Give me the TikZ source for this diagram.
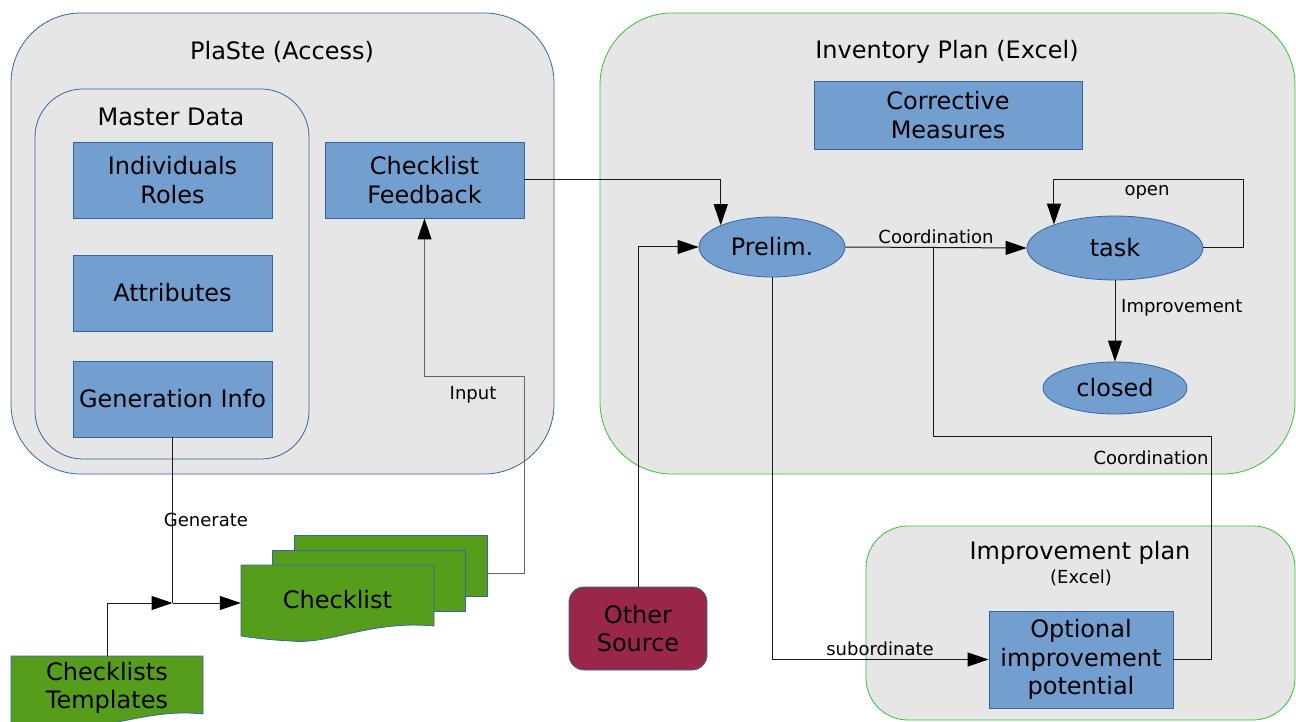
\documentclass[tikz,border=0pt]{standalone}
\usepackage{fontspec}
\setmainfont{DejaVu Sans}
\usetikzlibrary{shapes.geometric,arrows.meta}
\definecolor{cgray}{HTML}{E6E6E6}
\definecolor{cblue}{HTML}{729FCF}
\definecolor{cborder}{HTML}{3465A4}
\definecolor{cgreenb}{HTML}{33C433}
\definecolor{cgreen}{HTML}{579D1C}
\definecolor{cmaroon}{HTML}{9B2748}
\begin{document}
\begin{tikzpicture}[x=1pt,y=-1pt,
  bigfont/.style={font=\fontsize{24pt}{28.5pt}\selectfont},
  smallfont/.style={font=\fontsize{18pt}{22pt}\selectfont},
  container/.style={draw=cborder, fill=cgray, line width=0.8pt, inner sep=0pt},
  greencont/.style={container, draw=cgreenb},
  bluebox/.style={draw=cborder, fill=cblue, line width=0.8pt, inner sep=0pt, align=center, bigfont},
  ellnode/.style={ellipse, draw=cborder, fill=cblue, line width=0.8pt, inner sep=0pt, bigfont},
  docshape/.style={draw=cborder, fill=cgreen, line width=0.8pt},
  conn/.style={draw=black!90, line width=1pt},
  arr/.style={conn, -{Triangle[length=21pt,width=14pt,black]}},
  lbl/.style={smallfont, inner sep=0pt},
  title/.style={bigfont, inner sep=0pt}
]
\useasboundingbox (0,0) rectangle (1296,722);

% containers
\node[container, rounded corners=70pt, minimum width=543pt, minimum height=461pt] (plaste) at (282.5,243.5) {};
\node[container, rounded corners=48pt, minimum width=274pt, minimum height=370pt] (master) at (172,274) {};
\node[greencont, rounded corners=72pt, minimum width=695pt, minimum height=461pt] (inventory) at (947.5,243.5) {};
\node[greencont, rounded corners=42pt, minimum width=429pt, minimum height=194pt] (improv) at (1080.5,623) {};

% titles
\node[title] (t1) at (282,52) {PlaSte (Access)};
\node[title] (t2) at (171,117) {Master Data};
\node[title] (t3) at (947,52) {Inventory Plan (Excel)};
\node[title] (t4) at (1080,553) {Improvement plan};
\node[lbl] (t5) at (1081,578) {(Excel)};

% blue boxes
\node[bluebox, minimum width=199pt, minimum height=76pt] (indiv) at (172.5,180) {Individuals\\Roles};
\node[bluebox, minimum width=199pt, minimum height=76pt] (attr) at (172.5,293) {Attributes};
\node[bluebox, minimum width=199pt, minimum height=76pt] (gen) at (172.5,399) {Generation Info};
\node[bluebox, minimum width=199pt, minimum height=76pt] (cf) at (424.5,180) {Checklist\\Feedback};
\node[bluebox, minimum width=268pt, minimum height=68pt] (corr) at (948,115) {Corrective\\Measures};
\node[bluebox, minimum width=184pt, minimum height=97pt] (opt) at (1081,659.5) {Optional\\improvement\\potential};

% ellipses
\node[ellnode, minimum width=146pt, minimum height=60pt] (prelim) at (772,247) {Prelim.};
\node[ellnode, minimum width=176pt, minimum height=64pt] (task) at (1115,248) {task};
\node[ellnode, minimum width=144pt, minimum height=52pt] (closed) at (1115,388) {closed};

% other source
\node[draw=cborder, fill=cmaroon, line width=0.8pt, rounded corners=15pt, minimum width=138pt, minimum height=83pt, inner sep=0pt, align=center, bigfont] (other) at (638,628.5) {Other\\Source};

% checklist stack
\node[docshape, minimum width=193pt, minimum height=61pt, inner sep=0pt] (chk3) at (391,565.5) {};
\node[docshape, minimum width=193pt, minimum height=61pt, inner sep=0pt] (chk2) at (368.5,580.5) {};
\path[docshape] (241,565) -- (434,565) -- (434,626) .. controls (370,620) and (330,645) .. (291,641) .. controls (270,640) and (255,638) .. (241,636) -- cycle;
\node[bigfont, minimum width=193pt, minimum height=76pt, inner sep=0pt] (chk) at (337.5,603) {\raisebox{7pt}{Checklist}};

% templates
\path[docshape] (11,656) -- (203,656) -- (203,714) .. controls (150,708) and (110,730) .. (60,728) .. controls (40,728) and (25,726) .. (11,724) -- cycle;
\node[bigfont, align=center, minimum width=192pt, minimum height=64pt, inner sep=0pt] (tmpl) at (107,688) {Checklists\\Templates};

% coordinates
\coordinate (j1) at (gen.south |- chk.west);
\coordinate (in1) at (524,376);
\coordinate (j2) at (933,247);
\coordinate (c2) at (1211,436);
\coordinate (loop1) at (1243,180);

% connectors
\draw[conn] (gen.south) -- (j1);
\draw[arr] (j1) -- (chk.west);
\draw[arr] (tmpl.north) |- (j1);
\draw[arr, draw=black!60] ([yshift=-7.5pt]chk3.east) -| (in1) -| (cf.south);
\draw[arr] (cf.east) -| (prelim.157);
\draw[arr] (other.north) |- (prelim.west);
\draw[arr] (prelim.east) -- (task.west);
\draw[conn] (j2) |- (c2) |- (opt.east);
\draw[arr] (task.east) -| (loop1) -| (task.159);
\draw[arr] (task.south) -- (closed.north);
\draw[arr] (prelim.south) |- (opt.west);

% labels
\node[lbl] (l1) at (936,237) {Coordination};
\node[lbl] (l2) at (1147,192) {open};
\node[lbl, anchor=west] (l3) at (1121,308) {Improvement};
\node[lbl] (l4) at (1151,458) {Coordination};
\node[lbl] (l5) at (880,649) {subordinate};
\node[lbl] (l6) at (473,395) {Input};
\node[lbl] (l7) at (206,520) {Generate};
\end{tikzpicture}
\end{document}
